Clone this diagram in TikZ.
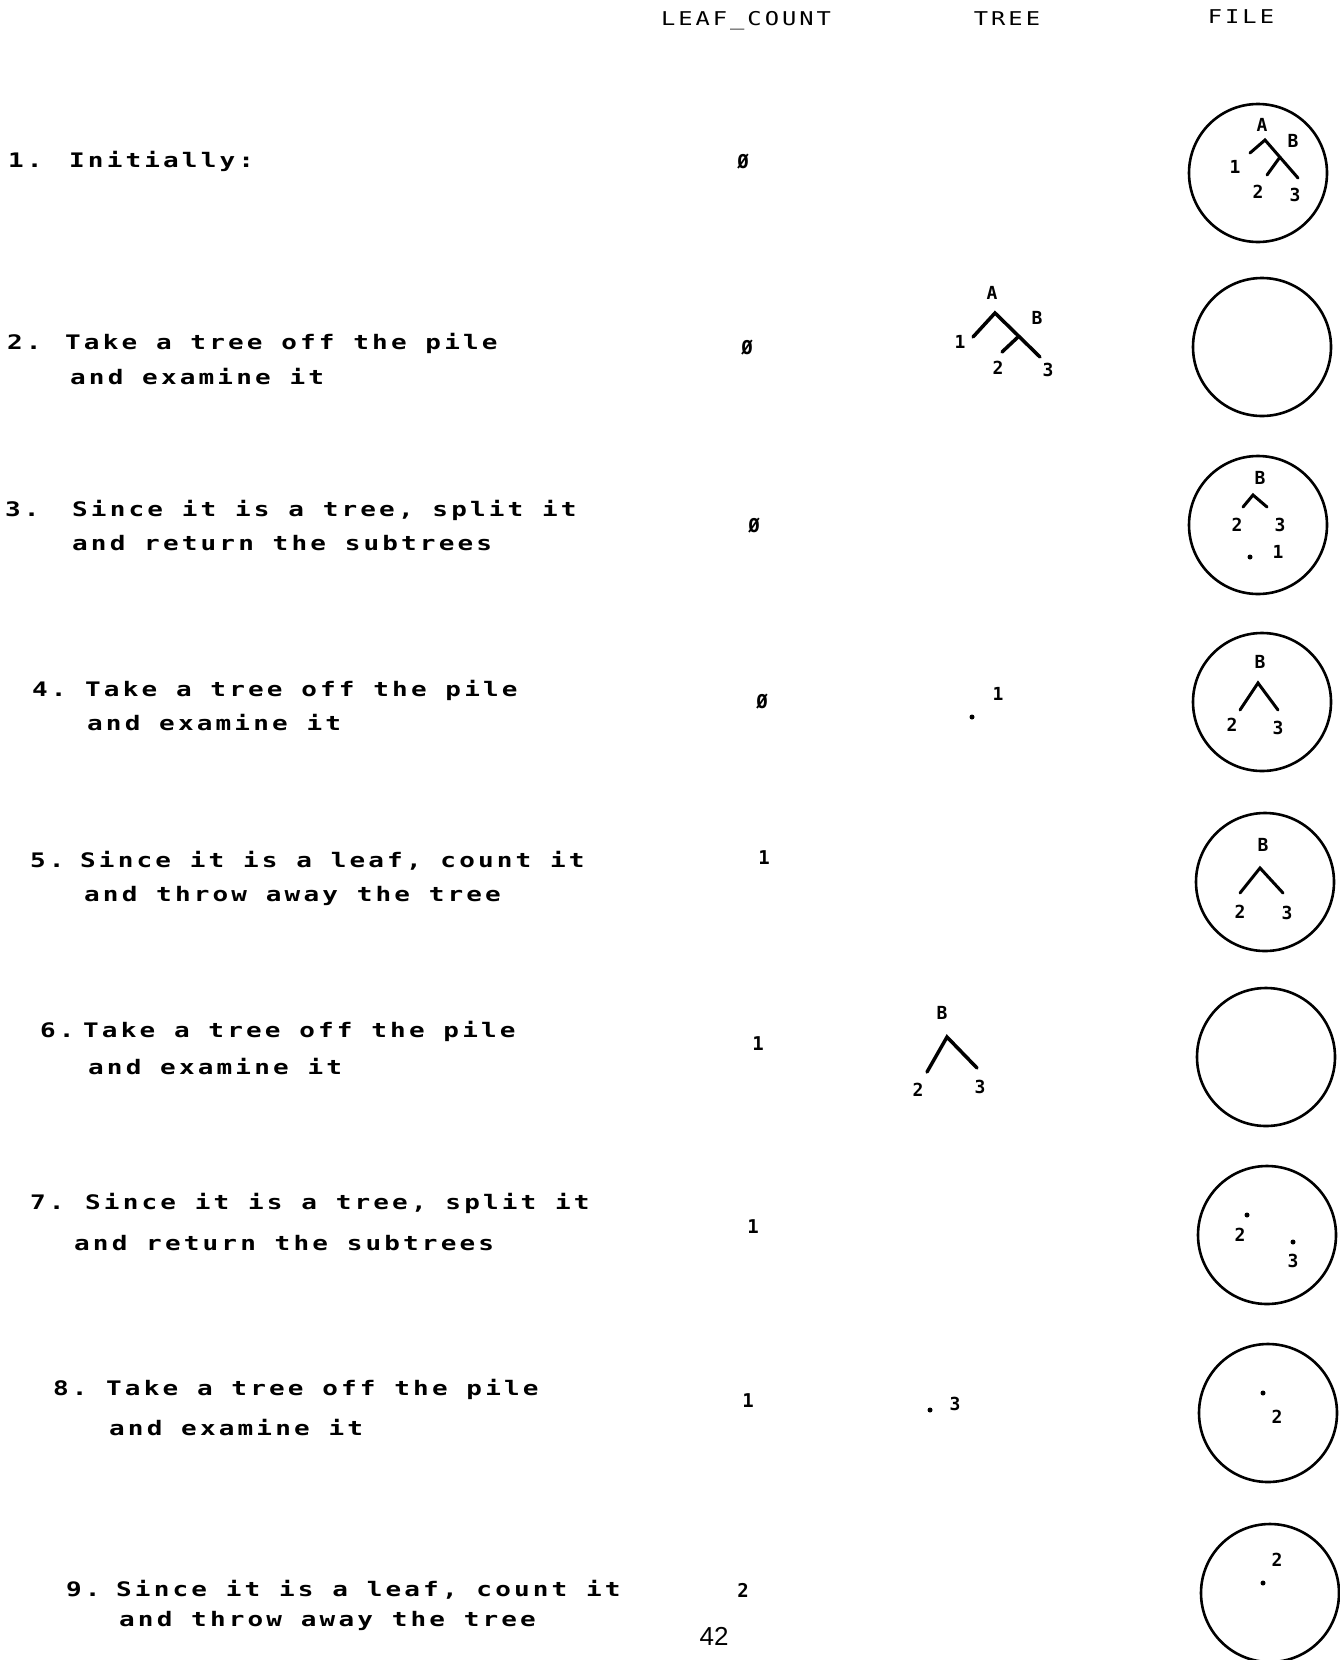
\documentclass[tikz,border=0pt]{standalone}
\usepackage{fontspec}
\newfontfamily\typefont[FakeStretch=1.3,LetterSpace=15.75]{DejaVu Sans Mono}
\newfontfamily\headfont[FakeStretch=1.25,LetterSpace=15.75]{DejaVu Sans Mono}
\newfontfamily\smallfont{DejaVu Sans Mono}
\newfontfamily\pagefont{Liberation Sans}
\newcommand\bodyfont{\typefont\bfseries\fontsize{20}{24}\selectfont\spaceskip=18.8pt\relax}
\newcommand\hdrfont{\headfont\fontsize{19}{23}\selectfont\spaceskip=17.3pt\relax}
\begin{document}
\begin{tikzpicture}[x=1pt,y=-1pt,
  desc/.style={anchor=mid west,inner sep=0pt,font=\bodyfont},
  hdr/.style={anchor=mid,inner sep=0pt,font=\hdrfont},
  cnt/.style={anchor=mid,inner sep=0pt,font=\smallfont\bfseries\fontsize{19}{22}\selectfont},
  lbl/.style={anchor=center,inner sep=0pt,font=\smallfont\bfseries\fontsize{18}{20}\selectfont},
  pile/.style={draw,circle,line width=2.6pt,minimum size=138pt,inner sep=0pt},
  branch/.style={line width=3.5pt,line cap=round},
  twig/.style={line width=3pt,line cap=round},
  leafdot/.style={circle,fill,inner sep=0pt,minimum size=5pt}]
\useasboundingbox (0,0) rectangle (1340,1660);
% headers
\node[hdr] (hleaf) at (746,23) {LEAF\_COUNT};
\node[hdr] (htree) at (1007,23) {TREE};
\node[hdr] (hfile) at (1241,21) {FILE};
% step texts
\node[desc] (n1) at (8,165) {1.};
\node[desc] (s1a) at (69,165) {Initially:};
\node[desc] (n2) at (7,347) {2.};
\node[desc] (s2a) at (65,347) {Take a tree off the pile};
\node[desc] (s2b) at (70,382) {and examine it};
\node[desc] (n3) at (5,514) {3.};
\node[desc] (s3a) at (72,514) {Since it is a tree, split it};
\node[desc] (s3b) at (72,548) {and return the subtrees};
\node[desc] (n4) at (32,694) {4.};
\node[desc] (s4a) at (85,694) {Take a tree off the pile};
\node[desc] (s4b) at (87,728) {and examine it};
\node[desc] (n5) at (30,865) {5.};
\node[desc] (s5a) at (80,865) {Since it is a leaf, count it};
\node[desc] (s5b) at (84,899) {and throw away the tree};
\node[desc] (n6) at (40,1035) {6.};
\node[desc] (s6a) at (83,1035) {Take a tree off the pile};
\node[desc] (s6b) at (88,1072) {and examine it};
\node[desc] (n7) at (30,1207) {7.};
\node[desc] (s7a) at (85,1207) {Since it is a tree, split it};
\node[desc] (s7b) at (74,1248) {and return the subtrees};
\node[desc] (n8) at (53,1393) {8.};
\node[desc] (s8a) at (106,1393) {Take a tree off the pile};
\node[desc] (s8b) at (109,1433) {and examine it};
\node[desc] (n9) at (66,1594) {9.};
\node[desc] (s9a) at (116,1594) {Since it is a leaf, count it};
\node[desc] (s9b) at (119,1624) {and throw away the tree};
% leaf counts
\node[cnt] (c1) at (743,166) {Ø};
\node[cnt] (c2) at (747,352) {Ø};
\node[cnt] (c3) at (754,530) {Ø};
\node[cnt] (c4) at (762,706) {Ø};
\node[cnt] (c5) at (764,862) {1};
\node[cnt] (c6) at (758,1048) {1};
\node[cnt] (c7) at (753,1231) {1};
\node[cnt] (c8) at (748,1405) {1};
\node[cnt] (c9) at (743,1595) {2};
% piles
\node[pile] (p1) at (1258,173) {};
\node[pile] (p2) at (1262,347) {};
\node[pile] (p3) at (1258,525) {};
\node[pile] (p4) at (1262,702) {};
\node[pile] (p5) at (1265,882) {};
\node[pile] (p6) at (1266,1057) {};
\node[pile] (p7) at (1267,1235) {};
\node[pile] (p8) at (1268,1413) {};
\node[pile] (p9) at (1270,1593) {};
% pile 1 tree
\coordinate (q1a) at (1265,140);
\coordinate (q1l) at (1250,153);
\coordinate (q1b) at (1280,157);
\coordinate (q1r) at (1298,178);
\coordinate (q1bl) at (1267,175);
\draw[twig] (q1l) -- (q1a) -- (q1r);
\draw[twig] (q1b) -- (q1bl);
\node[lbl] (q1A) at (1262,125) {A};
\node[lbl] (q1B) at (1293,141) {B};
\node[lbl] (q1one) at (1235,167) {1};
\node[lbl] (q1two) at (1258,192) {2};
\node[lbl] (q1three) at (1295,195) {3};
% step 2 tree
\coordinate (t2a) at (995,313);
\coordinate (t2l) at (973,337);
\coordinate (t2b) at (1018,337);
\coordinate (t2r) at (1040,357);
\coordinate (t2bl) at (1002,352);
\draw[branch] (t2l) -- (t2a) -- (t2r);
\draw[branch] (t2b) -- (t2bl);
\node[lbl] (t2A) at (992,293) {A};
\node[lbl] (t2B) at (1037,318) {B};
\node[lbl] (t2one) at (960,342) {1};
\node[lbl] (t2two) at (998,368) {2};
\node[lbl] (t2three) at (1048,370) {3};
% pile 3
\coordinate (q3a) at (1253,495);
\coordinate (q3l) at (1243,507);
\coordinate (q3r) at (1267,507);
\draw[twig] (q3l) -- (q3a) -- (q3r);
\node[lbl] (q3B) at (1260,478) {B};
\node[lbl] (q3two) at (1237,525) {2};
\node[lbl] (q3three) at (1280,525) {3};
\node[leafdot] (q3d) at (1250,557) {};
\node[lbl] (q3one) at (1278,552) {1};
% step 4 tree
\node[lbl] (t4one) at (998,694) {1};
\node[leafdot] (t4d) at (972,717) {};
% pile 4
\coordinate (q4a) at (1258,683);
\coordinate (q4l) at (1240,710);
\coordinate (q4r) at (1278,710);
\draw[twig] (q4l) -- (q4a) -- (q4r);
\node[lbl] (q4B) at (1260,662) {B};
\node[lbl] (q4two) at (1232,725) {2};
\node[lbl] (q4three) at (1278,728) {3};
% pile 5
\coordinate (q5a) at (1260,868);
\coordinate (q5l) at (1240,893);
\coordinate (q5r) at (1283,893);
\draw[twig] (q5l) -- (q5a) -- (q5r);
\node[lbl] (q5B) at (1263,845) {B};
\node[lbl] (q5two) at (1240,912) {2};
\node[lbl] (q5three) at (1287,913) {3};
% step 6 tree
\coordinate (t6a) at (947,1037);
\coordinate (t6l) at (927,1072);
\coordinate (t6r) at (977,1068);
\draw[branch] (t6l) -- (t6a) -- (t6r);
\node[lbl] (t6B) at (942,1013) {B};
\node[lbl] (t6two) at (918,1090) {2};
\node[lbl] (t6three) at (980,1087) {3};
% pile 7
\node[leafdot] (q7d2) at (1247,1215) {};
\node[lbl] (q7two) at (1240,1235) {2};
\node[leafdot] (q7d3) at (1293,1242) {};
\node[lbl] (q7three) at (1293,1261) {3};
% step 8 tree
\node[leafdot] (t8d) at (930,1410) {};
\node[lbl] (t8three) at (955,1404) {3};
% pile 8
\node[leafdot] (q8d) at (1263,1393) {};
\node[lbl] (q8two) at (1277,1417) {2};
% pile 9
\node[lbl] (q9two) at (1277,1560) {2};
\node[leafdot] (q9d) at (1263,1583) {};
% page number
\node[font=\pagefont\fontsize{26}{28}\selectfont,inner sep=0pt] (pg) at (714,1636) {42};
\end{tikzpicture}
\end{document}
